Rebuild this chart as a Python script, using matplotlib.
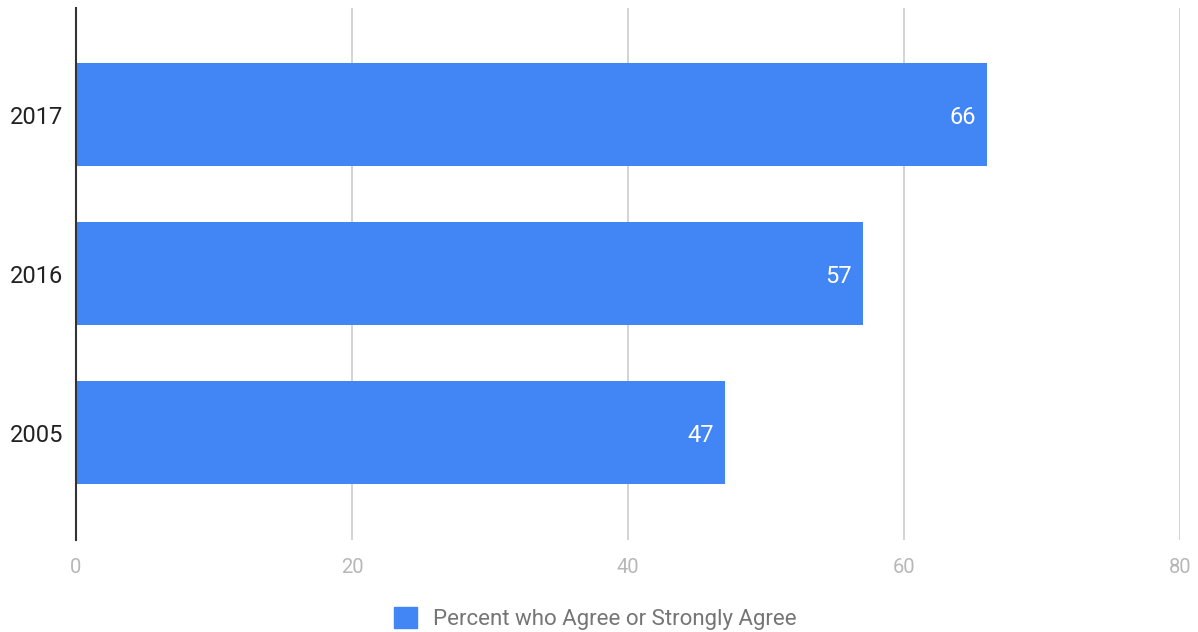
import matplotlib.pyplot as plt
from matplotlib.patches import Patch

plt.rcParams['font.family'] = ['Roboto', 'DejaVu Sans']

# Data
years = ["2005", "2016", "2017"]
percent = [47, 57, 66]
series_name = "Percent who Agree or Strongly Agree"
x_ticks = [0, 20, 40, 60, 80]

bar_color = "#4285F4"

fig = plt.figure(figsize=(11.98, 6.32), dpi=100)
ax = fig.add_axes([0.0634, 0.1456, 0.9216, 0.8414])

ypos = list(range(len(years)))
bars = ax.barh(ypos, percent, height=0.65, color=bar_color, zorder=3)

# value labels just inside the bar end
for y, v in zip(ypos, percent):
    ax.annotate(str(v), xy=(v, y), xytext=(-8, 0), textcoords="offset points",
                ha="right", va="center_baseline", color="white", fontsize=17, zorder=4)

ax.set_xlim(0, 80)
ax.set_ylim(-0.675, 2.67)
ax.set_xticks(x_ticks)
ax.set_yticks(ypos)
ax.set_yticklabels(years)

ax.grid(axis="x", color="#cccccc", linewidth=1.2, zorder=0)
for side in ["top", "right", "bottom"]:
    ax.spines[side].set_visible(False)
ax.spines["left"].set_color("#333333")
ax.spines["left"].set_linewidth(1.5)
ax.spines["left"].set_zorder(5)

ax.tick_params(axis="x", length=0, labelsize=14.5, labelcolor="#b7b7b7", pad=13)
ax.tick_params(axis="y", length=0, labelsize=17, labelcolor="#222222", pad=9)

fig.legend(handles=[Patch(facecolor=bar_color, edgecolor=bar_color)], labels=[series_name],
           loc="center", bbox_to_anchor=(0.497, 0.021), frameon=False,
           fontsize=16, labelcolor="#757575", handlelength=1.05, handleheight=1.05,
           handletextpad=0.7)

plt.savefig("out.png", dpi=100)
